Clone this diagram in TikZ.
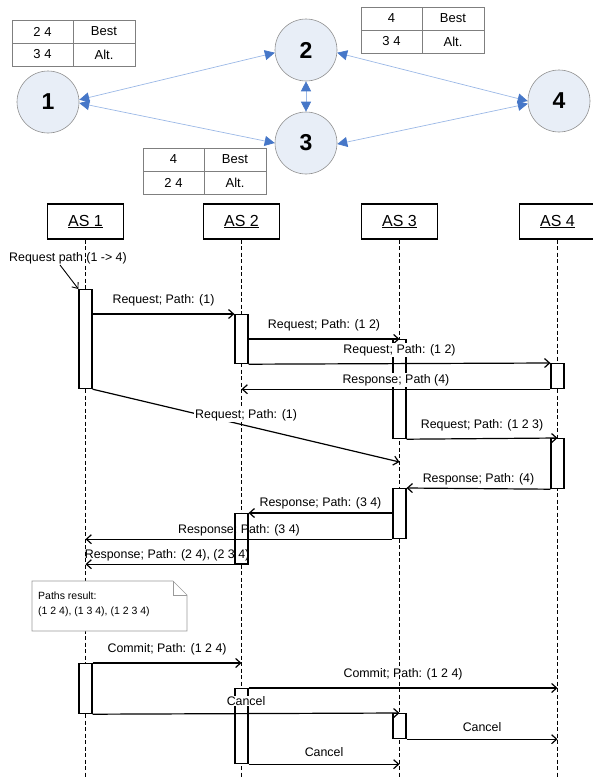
\documentclass[tikz,border=0pt]{standalone}
\usepackage{fontspec}
\setmainfont{Liberation Sans}
\usetikzlibrary{arrows.meta,positioning,calc}

\definecolor{nodefill}{HTML}{E8EEF7}
\definecolor{nodeedge}{HTML}{8F8F8F}
\definecolor{edgeblue}{HTML}{9BB8E6}
\definecolor{tipblue}{HTML}{4677C8}
\definecolor{gridgray}{HTML}{7F7F7F}
\definecolor{notegray}{HTML}{9A9A9A}

\tikzset{
  asnode/.style={circle, draw=nodeedge, fill=nodefill, line width=0.6pt, minimum size=62pt, inner sep=0pt, font=\fontsize{23}{25}\selectfont\bfseries},
  link/.style={draw=edgeblue, line width=0.7pt, {Triangle[length=10pt,width=10pt,color=tipblue]}-{Triangle[length=10pt,width=10pt,color=tipblue]}},
  cell/.style={font=\fontsize{13}{15}\selectfont, inner sep=0pt},
  ashead/.style={draw, line width=1.2pt, fill=white, minimum width=76pt, minimum height=35pt, font=\fontsize{16}{18}\selectfont},
  lifeline/.style={line width=1.1pt, dash pattern=on 4pt off 2.5pt},
  actbar/.style={draw, line width=1.2pt, fill=white, minimum width=13pt, inner sep=0pt, anchor=north},
  msg/.style={line width=1.2pt, -{Straight Barb[length=5pt,width=9pt]}},
  lbl/.style={font=\fontsize{12.4}{14}\selectfont, inner sep=1pt, above=6pt},
  rlbl/.style={lbl, above=2pt},
}

\begin{document}
\begin{tikzpicture}[x=1pt, y=-1pt]
  \useasboundingbox (0,0) rectangle (592,779);
  \coordinate (bot) at (0,779);

  % Routing tables
  \foreach \x/\y/\a/\b [count=\i] in {12/20/2 4/3 4, 143/148/4/2 4, 361/7/4/3 4} {
    \draw[gridgray, line width=0.6pt] (\x,\y) rectangle ++(123,46)
      (\x+61,\y) -- ++(0,46) (\x,\y+23) -- ++(123,0);
    \node[cell] (t\i a) at (\x+30.5,\y+11.5) {\a};
    \node[cell] (t\i b) at (\x+92,\y+11.5) {Best};
    \node[cell] (t\i c) at (\x+30.5,\y+34.5) {\b};
    \node[cell] (t\i d) at (\x+92,\y+34.5) {Alt.};
  }

  % AS graph
  \node[asnode] (n1) at (48,102) {1};
  \node[asnode] (n2) at (306,50) {2};
  \node[asnode] (n3) at (306,143) {3};
  \node[asnode] (n4) at (559,101) {4};
  \draw[link] (n1.4) -- (n2.185);
  \draw[link] (n1.358) -- (n3.180);
  \draw[link] (n2.south) -- (n3.north);
  \draw[link] (n2.355) -- (n4.180);
  \draw[link] (n3.358) -- (n4.185);

  % Lifelines
  \node[ashead] (as1) at (85.5,221.5) {\underline{AS 1}};
  \node[ashead] (as2) at (241.5,221.5) {\underline{AS 2}};
  \node[ashead] (as3) at (399.5,221.5) {\underline{AS 3}};
  \node[ashead] (as4) at (557.5,221.5) {\underline{AS 4}};
  \foreach \n in {as1,as2,as3,as4}
    \draw[lifeline] (\n.south) -- (\n.south |- bot);

  % Activation bars
  \foreach \nm/\x/\t/\b in {b1a/85.5/289/388, b2a/241.5/314/363, b3a/399.5/339/438,
      b4a/557.5/363/388, b4b/557.5/438/488, b3b/399.5/488/538, b2b/241.5/513/563,
      b1b/85.5/663/713, b2c/241.5/688/763, b3c/399.5/713/738}
    \node[actbar, minimum height={(\b-\t)*1pt}] (\nm) at (\x,\t) {};

  % Start of the request
  \node[font=\fontsize{12.4}{14}\selectfont, inner sep=1pt] (req) at (68,258) {Request path (1 -> 4)};
  \draw[line width=0.9pt, -{Straight Barb[length=5pt,width=8pt]}] ([xshift=-8pt]req.south) -- (b1a.north west);

  % Path discovery
  \coordinate (m5end) at (399.5,462);
  \draw[msg] (b1a.east |- b2a.north) -- node[lbl] (l1) {Request; Path: (1)} (b2a.north west);
  \draw[msg] (b2a.east |- b3a.north) -- node[lbl] (l2) {Request; Path: (1 2)} (b3a.north);
  \draw[msg] (b2a.south east) -- node[lbl, fill=white] (l3) {Request; Path: (1 2)} (b4a.north west);
  \draw[msg] (b4a.south west) -- node[rlbl, fill=white] (l4) {Response; Path (4)} (as2 |- b4a.south);
  \draw[msg] (b1a.south east) -- node[lbl, above=3pt, fill=white] (l5) {Request; Path: (1)} (m5end);
  \draw[msg] (b3a.south east) -- node[lbl] (l6) {Request; Path: (1 2 3)} (b4b.north);
  \draw[msg] (b4b.south west) -- node[rlbl] (l7) {Response; Path: (4)} (b3b.north east);
  \draw[msg] (b3b.west |- b2b.north) -- node[rlbl] (l8) {Response; Path: (3 4)} (b2b.north east);
  \draw[msg] (b3b.south west) -- node[rlbl] (l9) {Response; Path: (3 4)} (as1 |- b3b.south);
  \draw[msg] (b2b.south east) -- node[rlbl] (l10) {Response; Path: (2 4), (2 3 4)} (as1 |- b2b.south);

  % Note
  \draw[notegray, fill=white, line width=0.6pt] (32,581) -- (173,581) -- (187,595) -- (187,631) -- (32,631) -- cycle;
  \draw[notegray, line width=0.6pt] (173,581) -- (173,595) -- (187,595);
  \node[font=\fontsize{10.5}{15}\selectfont, align=left, anchor=north west, inner sep=0pt] (note) at (38,592)
    {Paths result:\\(1 2 4), (1 3 4), (1 2 3 4)};

  % Commit and cancel
  \draw[msg] (b1b.north east) -- node[lbl] (l11) {Commit; Path: (1 2 4)} (as2 |- b1b.north);
  \draw[msg] (b2c.north east) -- node[lbl] (l12) {Commit; Path: (1 2 4)} (as4 |- b2c.north);
  \draw[msg] (b1b.south east) -- node[lbl, above=7pt, fill=white, inner sep=0.5pt] (l13) {Cancel} (b3c.north);
  \draw[msg] (b3c.south east) -- node[lbl] (l14) {Cancel} (as4 |- b3c.south);
  \draw[msg] (b2c.south east) -- node[lbl] (l15) {Cancel} (as3 |- b2c.south);

\end{tikzpicture}
\end{document}
